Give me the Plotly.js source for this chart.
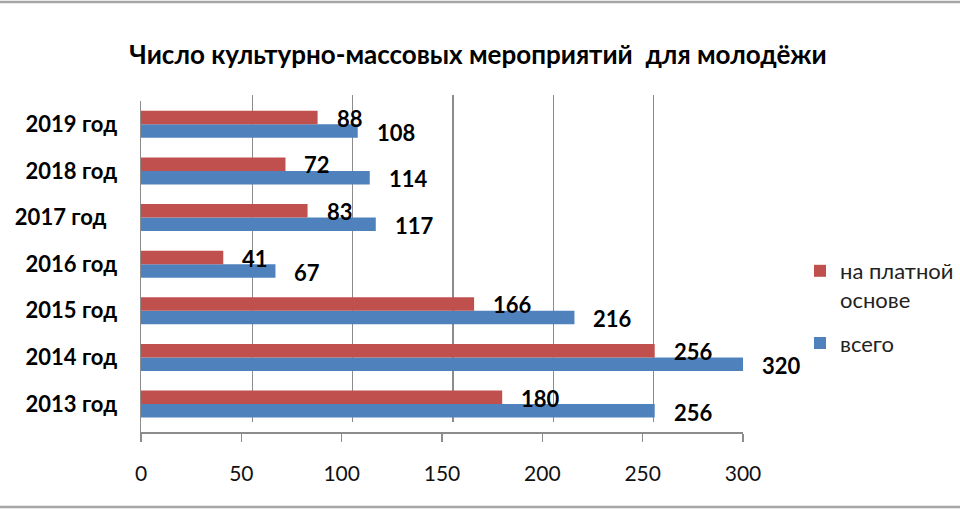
<!DOCTYPE html>
<html>
<head>
<meta charset="utf-8">
<script src="https://cdn.plot.ly/plotly-3.0.1.min.js"></script>
<style>
  html, body { margin: 0; padding: 0; background: #fff; }
  #chart { width: 960px; height: 510px; }
</style>
</head>
<body>
<div id="chart"></div>
<script>
  // данные с диаграммы
  var years = ["2013 год", "2014 год", "2015 год", "2016 год", "2017 год\u00a0\u00a0", "2018 год", "2019 год"];
  var total = [256, 320, 216, 67, 117, 114, 108];
  var paid = [180, 256, 166, 41, 83, 72, 88];
  var xTicks = [0, 50, 100, 150, 200, 250, 300];

  var fontFamily = "Lato, 'Open Sans', sans-serif";
  var xMax = 300;

  var annotations = [];
  for (var i = 0; i < years.length; i++) {
    annotations.push({
      xref: "x2", yref: "y2",
      x: Math.min(paid[i], xMax), y: years[i],
      text: String(paid[i]),
      showarrow: false, xanchor: "left", xshift: 17, yshift: 6,
      font: { family: fontFamily, size: 22, color: "#000", weight: "bold" }
    });
    annotations.push({
      xref: "x2", yref: "y2",
      x: Math.min(total[i], xMax), y: years[i],
      text: String(total[i]),
      showarrow: false, xanchor: "left", xshift: 17, yshift: -8,
      font: { family: fontFamily, size: 22, color: "#000", weight: "bold" }
    });
  }

  var traces = [{
    // пустой след, чтобы появилась задняя стенка с сеткой
    type: "scatter",
    x: [], y: [],
    xaxis: "x", yaxis: "y",
    showlegend: false,
    hoverinfo: "none"
  }, {
    type: "bar",
    orientation: "h",
    name: "всего",
    legendgroup: "b",
    legendrank: 2,
    y: years,
    x: total,
    xaxis: "x2",
    yaxis: "y2",
    marker: { color: "#4F81BD", line: { width: 0 } },
    hoverinfo: "none"
  }, {
    type: "bar",
    orientation: "h",
    name: "на платной<br>основе",
    legendgroup: "a",
    legendrank: 1,
    y: years,
    x: paid,
    xaxis: "x2",
    yaxis: "y2",
    marker: { color: "#C0504D", line: { width: 0 } },
    hoverinfo: "none"
  }];

  var W = 960, H = 510;
  function fx(px) { return px / W; }
  function fy(px) { return 1 - px / H; }

  var layout = {
    width: W,
    height: H,
    margin: { l: 0, r: 0, t: 0, b: 0 },
    paper_bgcolor: "#fff",
    plot_bgcolor: "rgba(0,0,0,0)",
    font: { family: fontFamily, color: "#000" },
    showlegend: true,
    barmode: "group",
    bargap: 0.42,
    bargroupgap: 0,
    title: {
      text: "Число культурно-массовых мероприятий  для молодёжи",
      x: fx(478), xanchor: "center",
      y: fy(55), yanchor: "middle",
      font: { family: fontFamily, size: 26, color: "#000", weight: "bold" }
    },
    // задняя стенка (сетка со сдвигом, как в объёмной диаграмме)
    xaxis: {
      domain: [fx(152), fx(754)],
      range: [0, xMax],
      anchor: "y",
      tickvals: xTicks,
      showgrid: true,
      gridcolor: "#8c8c8c",
      gridwidth: 1.5,
      showticklabels: false,
      ticks: "",
      zeroline: false,
      showline: false,
      fixedrange: true
    },
    yaxis: {
      domain: [fy(422), fy(95)],
      range: [0, 1],
      anchor: "x",
      showgrid: false,
      showticklabels: false,
      zeroline: false,
      showline: false,
      fixedrange: true
    },
    // передняя плоскость с полосами
    xaxis2: {
      domain: [fx(141), fx(743)],
      range: [0, xMax],
      anchor: "y2",
      tickvals: xTicks,
      showgrid: false,
      zeroline: false,
      showline: true,
      linecolor: "#8c8c8c",
      linewidth: 1.5,
      ticks: "outside",
      ticklen: 8,
      tickcolor: "#8c8c8c",
      tickwidth: 1.5,
      ticklabelstandoff: 14,
      tickfont: { family: fontFamily, size: 21, color: "#111" },
      fixedrange: true
    },
    yaxis2: {
      domain: [fy(432), fy(101)],
      type: "category",
      categoryorder: "array",
      categoryarray: years,
      range: [-0.6, 6.5],
      anchor: "x2",
      showgrid: false,
      zeroline: false,
      showline: true,
      linecolor: "#8c8c8c",
      linewidth: 1.5,
      ticks: "",
      ticklabelstandoff: 18,
      tickfont: { family: fontFamily, size: 22, color: "#000", weight: "bold" },
      fixedrange: true
    },
    legend: {
      x: fx(800), xanchor: "left",
      y: fy(250), yanchor: "top",
      traceorder: "grouped",
      valign: "top",
      itemwidth: 30,
      tracegroupgap: 12,
      bgcolor: "rgba(0,0,0,0)",
      font: { family: fontFamily, size: 22, color: "#222" }
    },
    annotations: annotations,
    shapes: [
      { type: "line", xref: "paper", yref: "paper", x0: 0, x1: 1, y0: fy(2), y1: fy(2),
        line: { color: "#a6a6a6", width: 2.5 } },
      { type: "line", xref: "paper", yref: "paper", x0: 0, x1: 1, y0: fy(507), y1: fy(507),
        line: { color: "#a6a6a6", width: 2.5 } }
    ]
  };

  Plotly.newPlot("chart", traces, layout, { displayModeBar: false, staticPlot: true });
</script>
</body>
</html>
